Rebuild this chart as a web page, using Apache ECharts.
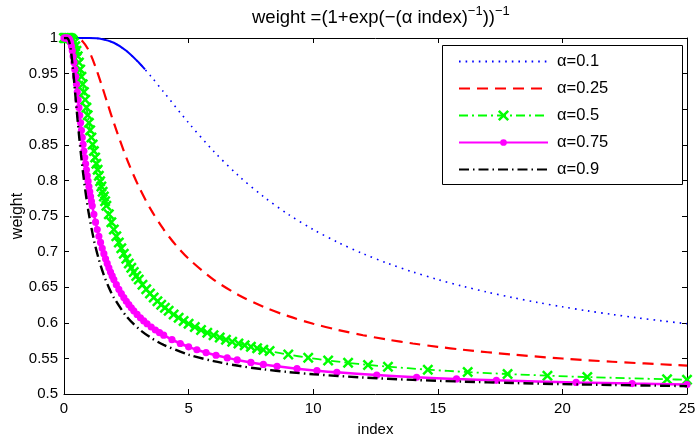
<!DOCTYPE html>
<html>
<head>
<meta charset="utf-8">
<script src="https://cdn.jsdelivr.net/npm/echarts@6/dist/echarts.min.js"></script>
<style>html,body{margin:0;padding:0;background:#fff}#c{width:695px;height:436px}</style>
</head>
<body>
<div id="c"></div>
<script>
// ---- data ----
const seriesNames = ['α=0.1', 'α=0.25', 'α=0.5', 'α=0.75', 'α=0.9'];
const xTicks = [0, 5, 10, 15, 20, 25];
const yTicks = [0.5, 0.55, 0.6, 0.65, 0.7, 0.75, 0.8, 0.85, 0.9, 0.95, 1];

const curveA01 = [[0,1],[0.5,1],[1,0.99995],[1.5,0.99873],[2,0.99331],[2.5,0.98201],[3,0.96556],[3.5,0.94568],[4,0.92414],[5,0.88080],[6,0.84113],[7,0.80668],[8,0.77730],[9,0.75233],[10,0.73106],[11,0.71282],[12,0.69706],[13,0.68336],[14,0.67135],[15,0.66076],[16,0.65135],[17,0.64296],[18,0.63542],[19,0.62862],[20,0.62246],[21,0.61685],[22,0.61172],[23,0.60701],[24,0.60268],[25,0.59869]];
const curveA01Head = [[0.5,1],[1,0.99995],[1.5,0.99873],[2,0.99331],[2.5,0.98201],[3,0.96556],[3.25,0.95593]];

const curveA025 = [[0,1],[0.25,1],[0.5,0.99966],[0.75,0.99520],[1,0.98201],[1.25,0.96084],[1.5,0.93503],[1.75,0.90769],[2,0.88080],[2.5,0.83202],[3,0.79139],[3.5,0.75820],[4,0.73106],[4.5,0.70866],[5,0.68997],[6,0.66076],[7,0.63909],[8,0.62246],[9,0.60932],[10,0.59869],[11,0.58992],[12,0.58257],[13,0.57632],[14,0.57095],[15,0.56628],[16,0.56218],[18,0.55533],[20,0.54983],[22,0.54533],[25,0.53991]];

const curveA05 = [[0,1],[0.05,1],[0.1,1],[0.15,1],[0.2,0.99995],[0.25,0.99966],[0.3,0.99873],[0.35,0.99671],[0.4,0.99331],[0.45,0.98839],[0.5,0.98201],[0.55,0.97432],[0.6,0.96556],[0.65,0.95593],[0.7,0.94568],[0.75,0.93503],[0.8,0.92414],[0.85,0.91317],[0.9,0.90222],[0.95,0.89142],[1,0.88080],[1.05,0.87043],[1.1,0.86035],[1.15,0.85058],[1.2,0.84113],[1.25,0.83202],[1.3,0.82324],[1.35,0.81480],[1.4,0.80668],[1.45,0.79888],[1.5,0.79139],[1.55,0.78421],[1.6,0.77730],[1.65,0.77067],[1.7,0.76431],[1.8,0.75233],[1.9,0.74128],[2,0.73106],[2.1,0.72159],[2.2,0.71282],[2.3,0.70466],[2.4,0.69706],[2.5,0.68997],[2.6,0.68336],[2.7,0.67716],[2.8,0.67135],[2.9,0.66589],[3,0.66076],[3.15,0.65360],[3.3,0.64704],[3.45,0.64100],[3.6,0.63542],[3.75,0.63026],[3.9,0.62547],[4.05,0.62101],[4.2,0.61685],[4.4,0.61172],[4.6,0.60701],[4.8,0.60268],[5,0.59869],[5.25,0.59411],[5.5,0.58992],[5.75,0.58609],[6,0.58257],[6.25,0.57932],[6.5,0.57632],[6.75,0.57354],[7,0.57095],[7.25,0.56853],[7.5,0.56628],[7.75,0.56416],[8,0.56218],[8.25,0.56031],[9,0.55533],[9.8,0.55084],[10.6,0.54703],[11.4,0.54375],[12.2,0.54089],[13,0.53839],[14.6,0.53419],[16.2,0.53083],[17.8,0.52806],[19.4,0.52575],[21,0.52379],[24.2,0.52065],[25,0.51999]];

const curveA075 = [[0,1],[0.0333,1],[0.0667,1],[0.1,1],[0.1333,0.99995],[0.1667,0.99966],[0.2,0.99873],[0.2333,0.99671],[0.2667,0.99331],[0.3,0.98839],[0.3333,0.98201],[0.3667,0.97432],[0.4,0.96556],[0.4333,0.95593],[0.4667,0.94568],[0.5,0.93503],[0.5333,0.92414],[0.5667,0.91317],[0.6,0.90222],[0.6333,0.89142],[0.6667,0.88080],[0.7,0.87043],[0.7333,0.86035],[0.7667,0.85058],[0.8,0.84113],[0.8333,0.83202],[0.8667,0.82324],[0.9,0.81480],[0.9333,0.80668],[0.9667,0.79888],[1,0.79139],[1.0333,0.78421],[1.0667,0.77730],[1.1,0.77067],[1.1333,0.76431],[1.2,0.75233],[1.2667,0.74128],[1.3333,0.73106],[1.4,0.72159],[1.4667,0.71282],[1.5333,0.70466],[1.6,0.69706],[1.6667,0.68997],[1.7333,0.68336],[1.8,0.67716],[1.8667,0.67135],[1.9333,0.66589],[2,0.66076],[2.1,0.65360],[2.2,0.64704],[2.3,0.64100],[2.4,0.63542],[2.5,0.63026],[2.6,0.62547],[2.7,0.62101],[2.8,0.61685],[2.9333,0.61172],[3.0667,0.60701],[3.2,0.60268],[3.3333,0.59869],[3.5,0.59411],[3.6667,0.58992],[3.8333,0.58609],[4,0.58257],[4.3333,0.57632],[4.6667,0.57095],[5,0.56628],[5.3333,0.56218],[5.7,0.55821],[6.1,0.55443],[6.55,0.55072],[6.95,0.54781],[7.5,0.54433],[8,0.54157],[8.55,0.53891],[9.35,0.53559],[10.15,0.53279],[10.95,0.53040],[12.55,0.52654],[14.15,0.52354],[15.75,0.52115],[17.35,0.51920],[20.55,0.51622],[22.8,0.51462],[25,0.51333]];

const curveA09 = [[0,1],[0.1,0.99999],[0.15,0.99939],[0.2,0.99615],[0.25,0.98839],[0.3,0.97596],[0.35,0.95987],[0.4,0.94146],[0.45,0.92195],[0.5,0.90222],[0.6,0.86435],[0.7,0.83023],[0.8,0.80041],[0.9,0.77462],[1,0.75233],[1.2,0.71625],[1.4,0.68862],[1.6,0.66696],[1.8,0.64960],[2,0.63542],[2.5,0.60932],[3,0.59155],[3.5,0.57871],[4,0.56900],[5,0.55533],[6,0.54616],[7,0.53960],[8,0.53467],[9,0.53083],[10,0.52775],[12,0.52313],[14,0.51983],[16,0.51736],[18,0.51543],[20,0.51388],[22,0.51262],[25,0.51111]];

// ---- chart ----
const FONT = 'Liberation Sans, Arial, Helvetica, sans-serif';
const X_PATH = 'path://M0,1.6L1.6,0L5,3.4L8.4,0L10,1.6L6.6,5L10,8.4L8.4,10L5,6.6L1.6,10L0,8.4L3.4,5Z';
// dot with transparent padding so the legend dot stays small
const DOT_PATH = 'path://M0,0L0.01,0L0.01,0.01ZM10,10L9.99,10L9.99,9.99ZM8,5A3,3 0 1,1 2,5A3,3 0 1,1 8,5Z';
const chart = echarts.init(document.getElementById('c'), null, {renderer: 'canvas'});

const axisCommon = {
  axisLine: {show: true, onZero: false, lineStyle: {color: '#000', width: 1}},
  axisTick: {show: true, inside: true, length: 5, lineStyle: {color: '#000'}},
  splitLine: {show: false}
};

const option = {
  animation: false,
  backgroundColor: '#fff',
  textStyle: {fontFamily: FONT},
  title: {
    left: 252, top: 5, padding: 0,
    text: '{a|weight =(1+exp(−(α index)}{s|−1}{a|))}{s|−1}',
    textStyle: {
      fontWeight: 'normal',
      rich: {
        a: {fontSize: 18.5, fontWeight: 'normal', fontFamily: FONT, color: '#000'},
        s: {fontSize: 13, fontWeight: 'normal', fontFamily: FONT, color: '#000', padding: [0, 0, 12, 0]}
      }
    }
  },
  grid: {left: 64, right: 8, top: 38, bottom: 42, outerBoundsMode: 'none', containLabel: false},
  legend: {
    show: true, orient: 'vertical', left: 458, top: 53,
    itemWidth: 89, itemHeight: 14, itemGap: 10, padding: 0,
    data: [
      {name: seriesNames[0], itemStyle: {opacity: 0}},
      {name: seriesNames[1], itemStyle: {opacity: 0}},
      {name: seriesNames[2]},
      {name: seriesNames[3]},
      {name: seriesNames[4], itemStyle: {opacity: 0}}
    ],
    textStyle: {fontSize: 16.5, fontFamily: FONT, color: '#000', padding: [0, 0, 0, 4]},
    z: 10
  },
  graphic: [{
    type: 'rect', z: 9,
    shape: {x: 442.5, y: 45.5, width: 240, height: 139},
    style: {fill: '#fff', stroke: '#000', lineWidth: 1}
  }],
  xAxis: [
    Object.assign({
      type: 'value', min: xTicks[0], max: xTicks[xTicks.length - 1], interval: 5, position: 'bottom',
      name: 'index', nameLocation: 'middle', nameGap: 28,
      nameTextStyle: {fontSize: 15, color: '#000', fontFamily: FONT},
      axisLabel: {fontSize: 15, color: '#000', margin: 7, fontFamily: FONT}
    }, axisCommon),
    Object.assign({
      type: 'value', min: xTicks[0], max: xTicks[xTicks.length - 1], interval: 5, position: 'top',
      axisLabel: {show: false}
    }, axisCommon)
  ],
  yAxis: [
    Object.assign({
      type: 'value', min: yTicks[0], max: yTicks[yTicks.length - 1], interval: 0.05, position: 'left',
      name: 'weight', nameLocation: 'middle', nameGap: 38, nameMoveOverlap: false,
      nameTextStyle: {fontSize: 16, color: '#000', fontFamily: FONT},
      axisLabel: {fontSize: 15, color: '#000', margin: 6, fontFamily: FONT}
    }, axisCommon),
    Object.assign({
      type: 'value', min: yTicks[0], max: yTicks[yTicks.length - 1], interval: 0.05, position: 'right',
      axisLabel: {show: false}
    }, axisCommon)
  ],
  series: [
    {
      name: seriesNames[0], type: 'line', data: curveA01, smooth: 0.3, symbol: 'none',
      lineStyle: {color: '#0000ff', width: 1.6, type: [1.6, 5]}, itemStyle: {color: '#0000ff'},
      z: 2, silent: true
    },
    {
      name: 'head', type: 'line', data: curveA01Head, smooth: 0.3, symbol: 'none',
      lineStyle: {color: '#0000ff', width: 2}, z: 2, silent: true
    },
    {
      name: seriesNames[1], type: 'line', data: curveA025, smooth: 0.3, symbol: 'none',
      lineStyle: {color: '#ff0000', width: 2.2, type: [11, 7]}, itemStyle: {color: '#ff0000'},
      z: 3, silent: true
    },
    {
      name: seriesNames[2], type: 'line', data: curveA05, smooth: 0.3,
      symbol: X_PATH, symbolSize: 11, showAllSymbol: true,
      lineStyle: {color: '#00ff00', width: 1.8, type: [9, 4, 2, 4]}, itemStyle: {color: '#00ff00'},
      z: 4, silent: true
    },
    {
      name: seriesNames[3], type: 'line', data: curveA075, smooth: 0.3,
      symbol: DOT_PATH, symbolSize: 12, showAllSymbol: true,
      lineStyle: {color: '#ff00ff', width: 2.5}, itemStyle: {color: '#ff00ff'},
      z: 5, silent: true
    },
    {
      name: seriesNames[4], type: 'line', data: curveA09, smooth: 0.3, symbol: 'none',
      lineStyle: {color: '#000000', width: 2.4, type: [10, 4, 1.5, 4]}, itemStyle: {color: '#000'},
      z: 6, silent: true
    }
  ]
};
chart.setOption(option);
</script>
</body>
</html>
